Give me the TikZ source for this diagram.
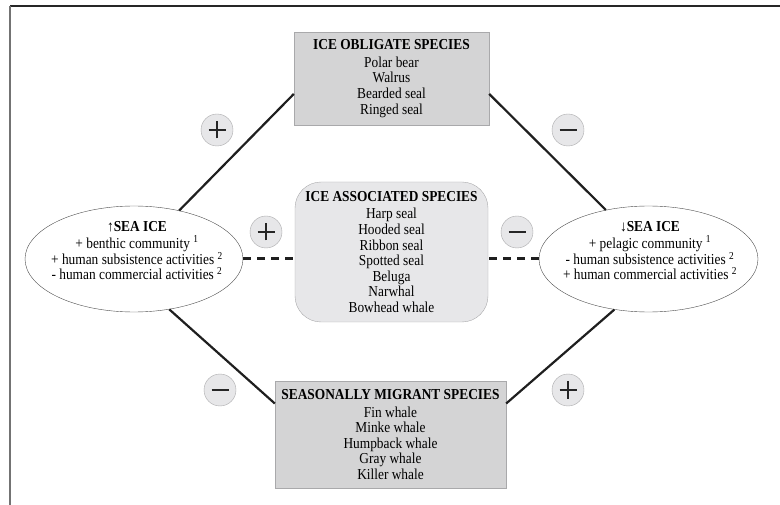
\documentclass[tikz,border=0pt]{standalone}
\usepackage{fontspec}
\setmainfont[FakeStretch=0.88]{Liberation Serif}
\usetikzlibrary{shapes.geometric}

\definecolor{boxgray}{HTML}{D4D4D5}
\definecolor{palegray}{HTML}{E7E7E9}
\definecolor{edgegray}{HTML}{A9A9AB}

\tikzset{
  spbox/.style={draw=edgegray, fill=boxgray, align=center, inner sep=0pt,
    font=\fontsize{15.2}{15.6}\selectfont},
  seaice/.style={ellipse, draw=black!70, fill=white, inner sep=0pt,
    minimum width=218pt, minimum height=106pt},
  icetext/.style={align=center, inner sep=0pt, font=\fontsize{15.2}{15.2}\selectfont},
  signc/.style={circle, draw=edgegray, fill=palegray, minimum size=32pt, inner sep=0pt},
  plussign/.style={signc, path picture={
    \draw[line width=1.7pt, black!85] ([xshift=-8.5pt]path picture bounding box.center) -- ++(17pt,0pt);
    \draw[line width=1.7pt, black!85] ([yshift=-8.5pt]path picture bounding box.center) -- ++(0pt,17pt);}},
  minussign/.style={signc, path picture={
    \draw[line width=1.7pt, black!85] ([xshift=-8.5pt]path picture bounding box.center) -- ++(17pt,0pt);}},
  link/.style={line width=2.2pt, draw=black!88},
  dlink/.style={line width=3pt, draw=black!88, dash pattern=on 8pt off 6pt},
}

\begin{document}
\begin{tikzpicture}[x=1pt,y=-1pt]
\useasboundingbox (0,0) rectangle (780,505);
% frame
\draw[line width=2pt, black!85] (780,6) -- (10,6);
\draw[line width=2pt, black!55] (10,6) -- (10,505);

% species boxes
\node[spbox, minimum width=195pt, minimum height=93pt] (obl) at (391.5,78.5)
  {\textbf{ICE OBLIGATE SPECIES}\\[2pt] Polar bear\\ Walrus\\ Bearded seal\\ Ringed seal};
\node[spbox, fill=palegray, rounded corners=26pt, minimum width=193pt, minimum height=140pt] (assoc) at (391.5,252)
  {\textbf{ICE ASSOCIATED SPECIES}\\[2pt] Harp seal\\ Hooded seal\\ Ribbon seal\\ Spotted seal\\ Beluga\\ Narwhal\\ Bowhead whale};
\node[spbox, minimum width=231pt, minimum height=107pt] (migr) at (390.5,434.5)
  {\textbf{SEASONALLY MIGRANT SPECIES}\\[2pt] Fin whale\\ Minke whale\\ Humpback whale\\ Gray whale\\ Killer whale};

% sea ice states
\node[seaice] (up) at (134,259) {};
\node[icetext] (uptxt) at (137,251)
  {\textbf{↑SEA ICE}\\[1pt] + benthic community \textsuperscript{1}\\ + human subsistence activities \textsuperscript{2}\\ - human commercial activities \textsuperscript{2}};
\node[seaice, minimum width=219pt] (down) at (648.5,259) {};
\node[icetext] (downtxt) at (650,251)
  {\textbf{↓SEA ICE}\\[1pt] + pelagic community \textsuperscript{1}\\ - human subsistence activities \textsuperscript{2}\\ + human commercial activities \textsuperscript{2}};

% links
\draw[link] (up.47) -- (obl.189);
\draw[link] (obl.351) -- (down.131);
\draw[link] (up.305) -- (migr.165);
\draw[link] (migr.15) -- (down.236);
\draw[dlink] (up.east) -- (up.east -| assoc.west);
\draw[dlink] (down.west) -- (down.west -| assoc.east);

% signs
\node[plussign] (pTL) at (217,130) {};
\node[minussign] (mTR) at (568,130) {};
\node[plussign] (pML) at (266,232) {};
\node[minussign] (mMR) at (517,232) {};
\node[minussign] (mBL) at (220,390) {};
\node[plussign] (pBR) at (568,390) {};
\end{tikzpicture}
\end{document}
